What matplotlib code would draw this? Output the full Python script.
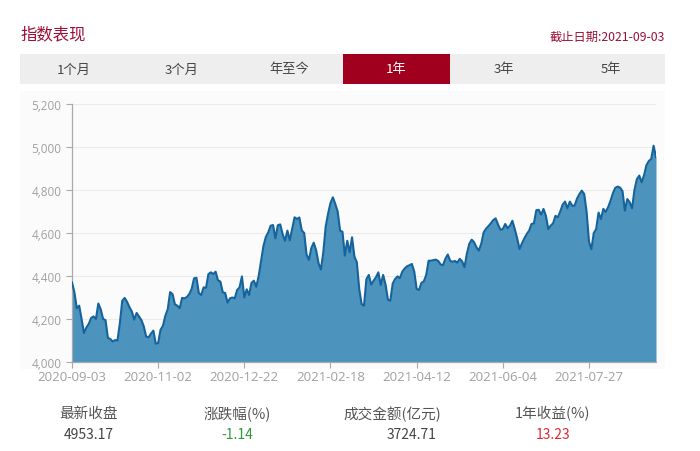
import matplotlib
matplotlib.use("Agg")
import matplotlib.pyplot as plt
from matplotlib.patches import Rectangle
from matplotlib.ticker import FuncFormatter, FixedLocator

plt.rcParams['font.family'] = ['Noto Sans CJK SC', 'DejaVu Sans']

# ---- data ----
values = [
    4370, 4324, 4250, 4262, 4200, 4135, 4160, 4177, 4205, 4212,
    4200, 4272, 4245, 4200, 4195, 4112, 4107, 4095, 4102, 4100,
    4180, 4285, 4298, 4280, 4255, 4235, 4197, 4228, 4212, 4195,
    4165, 4118, 4115, 4132, 4146, 4085, 4088, 4150, 4168, 4215,
    4245, 4325, 4316, 4268, 4262, 4250, 4298, 4296, 4302, 4316,
    4340, 4389, 4392, 4320, 4312, 4347, 4345, 4409, 4417, 4409,
    4420, 4380, 4374, 4324, 4321, 4276, 4296, 4300, 4296, 4335,
    4347, 4398, 4300, 4338, 4312, 4368, 4378, 4350, 4400, 4470,
    4540, 4582, 4603, 4634, 4637, 4575, 4636, 4640, 4595, 4564,
    4611, 4566, 4620, 4673, 4665, 4672, 4612, 4600, 4500, 4475,
    4530, 4555, 4520, 4460, 4430, 4510, 4630, 4690, 4740, 4766,
    4735, 4700, 4611, 4606, 4495, 4564, 4510, 4580, 4490, 4464,
    4340, 4270, 4262, 4385, 4405, 4360, 4378, 4394, 4417, 4358,
    4405, 4360, 4290, 4285, 4365, 4386, 4398, 4390, 4420, 4435,
    4445, 4450, 4456, 4420, 4340, 4335, 4368, 4375, 4405, 4471,
    4471, 4474, 4476, 4470, 4454, 4450, 4480, 4500, 4471, 4466,
    4470, 4462, 4480, 4468, 4441, 4505, 4550, 4569, 4557, 4533,
    4518, 4550, 4603, 4620, 4632, 4645, 4660, 4668, 4640, 4615,
    4618, 4642, 4622, 4634, 4657, 4618, 4575, 4525, 4552, 4575,
    4595, 4611, 4642, 4645, 4706, 4708, 4685, 4712, 4680, 4618,
    4634, 4645, 4680, 4673, 4700, 4732, 4746, 4715, 4746, 4727,
    4727, 4760, 4781, 4797, 4781, 4700, 4560, 4525, 4600, 4618,
    4695, 4665, 4712, 4698, 4720, 4750, 4785, 4810, 4816, 4811,
    4795, 4704, 4758, 4743, 4715, 4800, 4850, 4867, 4836, 4868,
    4915, 4935, 4944, 5006, 4953,
]
tick_labels = ["2020-09-03", "2020-11-02", "2020-12-22", "2021-02-18",
               "2021-04-12", "2021-06-04", "2021-07-27"]
tick_step = 36
y_ticks = [4000, 4200, 4400, 4600, 4800, 5000, 5200]

tabs = ["1个月", "3个月", "年至今", "1年", "3年", "5年"]
selected_tab = "1年"

stat_labels = ["最新收盘", "涨跌幅(%)", "成交金额(亿元)", "1年收益(%)"]
stat_values = ["4953.17", "-1.14", "3724.71", "13.23"]

title = "指数表现"
date_note = "截止日期:2021-09-03"

# ---- figure ----
W, H = 700, 452
fig = plt.figure(figsize=(W / 100, H / 100), dpi=100)
fig.patch.set_facecolor("white")

def fx(px):
    return px / W

def fy(py):
    return 1 - py / H

DARK_RED = "#a0001e"

# faint chart panel
fig.patches.append(Rectangle((fx(20), fy(370)), fx(645), (370 - 92) / H,
                             transform=fig.transFigure, facecolor="#fbfbfb",
                             edgecolor="none", zorder=0))

fig.text(fx(20), fy(35), title, color="#9b1038", fontsize=11.8,
         ha="left", va="center")
fig.text(fx(665), fy(37), date_note, color="#9b1038", fontsize=8.8,
         ha="right", va="center")

# tab bar
tab_left, tab_w = 20, 645 / len(tabs)
fig.patches.append(Rectangle((fx(tab_left), fy(85)), fx(645), 30 / H,
                             transform=fig.transFigure, facecolor="#eeeeee",
                             edgecolor="none", zorder=1))
for k, t in enumerate(tabs):
    x0 = tab_left + k * tab_w
    if t == selected_tab:
        fig.patches.append(Rectangle((fx(x0), fy(85)), tab_w / W, 30 / H,
                                     transform=fig.transFigure,
                                     facecolor=DARK_RED, edgecolor="none",
                                     zorder=2))
        col = "white"
    else:
        col = "#444444"
    fig.text(fx(x0 + tab_w / 2), fy(70), t, color=col, fontsize=9.5,
             ha="center", va="center", zorder=3)

# main axes
ax = fig.add_axes([fx(72), fy(363), 584 / W, 258 / H])
ax.set_zorder(5)
ax.set_facecolor("none")
x = list(range(len(values)))
ax.fill_between(x, 4000, values, color="#4c93be", linewidth=0, zorder=2)
ax.plot(x, values, color="#15639c", linewidth=1.5, zorder=3,
        solid_joinstyle="round")
ax.set_xlim(0, len(values) - 1)
ax.set_ylim(4000, 5200)
ax.set_yticks(y_ticks)
ax.yaxis.set_major_formatter(FuncFormatter(lambda v, p: f"{int(v):,}"))
ax.xaxis.set_major_locator(FixedLocator([i * tick_step for i in range(len(tick_labels))]))
ax.set_xticklabels(tick_labels)
ax.grid(axis="y", color="#ececec", linewidth=0.8, zorder=0)
for s in ["top", "right"]:
    ax.spines[s].set_visible(False)
for s in ["left", "bottom"]:
    ax.spines[s].set_color("#aaaaaa")
    ax.spines[s].set_linewidth(0.9)
ax.tick_params(axis="both", colors="#aaaaaa", labelcolor="#a0a0a0",
               length=4, width=0.8)
ax.tick_params(axis="y", labelsize=8.5)
ax.tick_params(axis="x", labelsize=9.5, pad=2)
for lab in ax.get_xticklabels() + ax.get_yticklabels():
    lab.set_family(["Open Sans", "DejaVu Sans"])

# stats row
stat_x = [89, 237, 392, 553]
stat_val_x = [89, 237, 412, 553]
val_colors = ["#444444", "#2e9a3e", "#444444", "#e0282e"]
for k in range(len(stat_labels)):
    fig.text(fx(stat_x[k]), fy(414), stat_labels[k], color="#555555",
             fontsize=10.5, ha="center", va="center")
    fig.text(fx(stat_val_x[k]), fy(435.5), stat_values[k], color=val_colors[k],
             fontsize=10, ha="center", va="center")

fig.savefig("out.png", dpi=100)
